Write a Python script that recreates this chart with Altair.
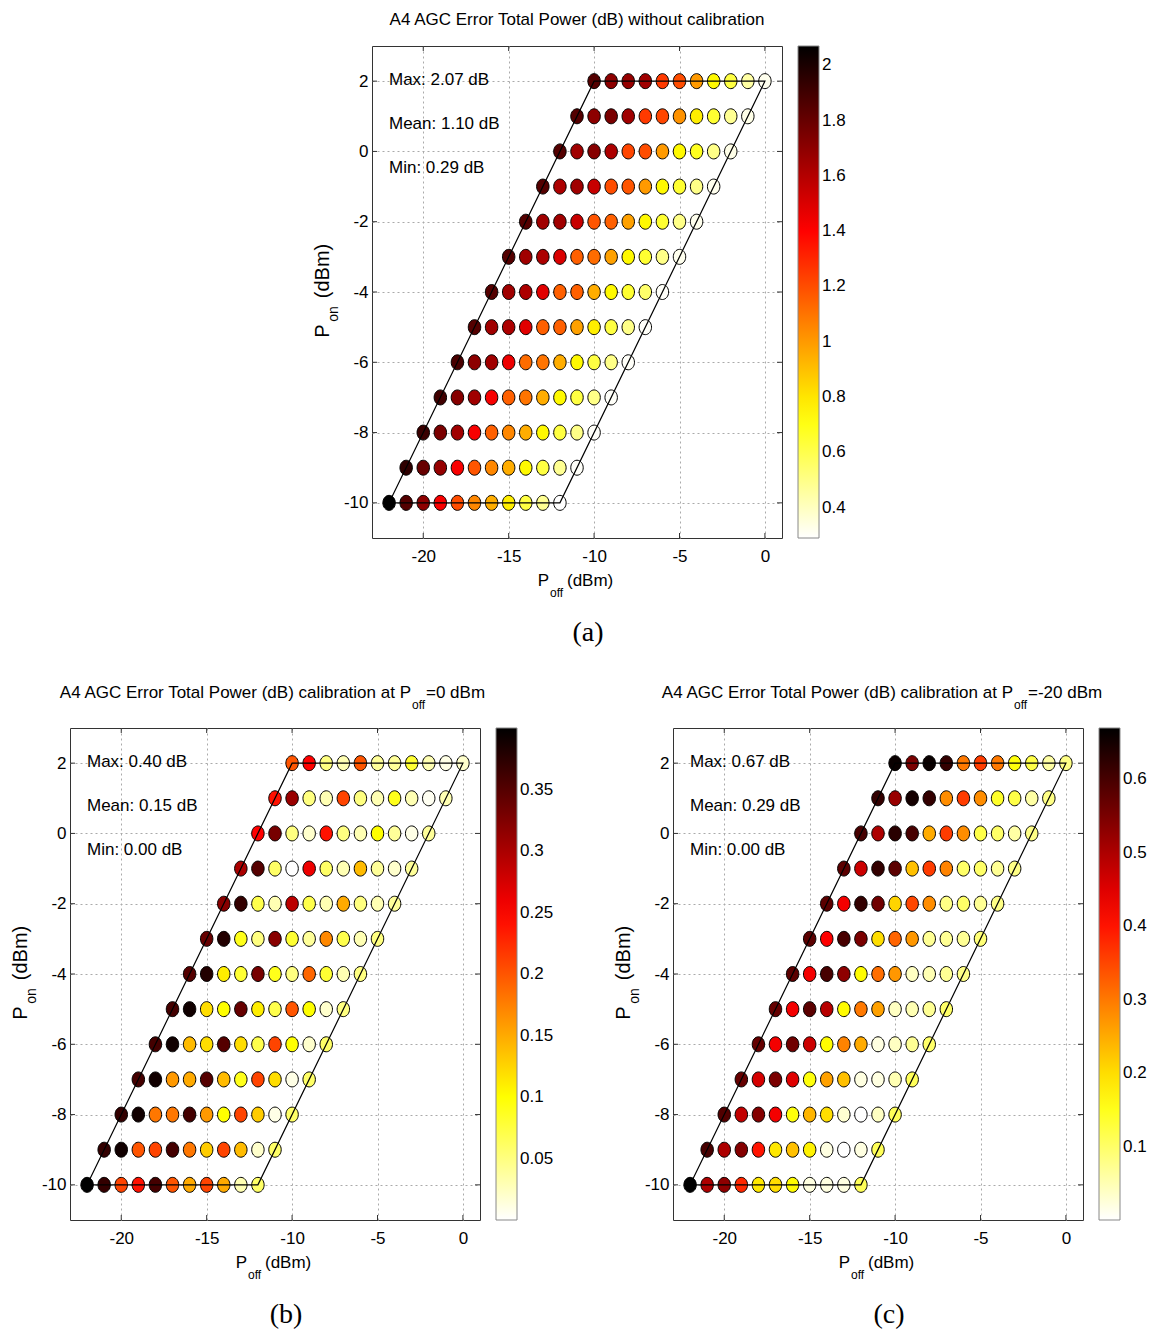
import altair as alt
import pandas as pd

# ---------------- data ----------------
pon_levels = [2, 1, 0, -1, -2, -3, -4, -5, -6, -7, -8, -9, -10]
poff_steps = [-12, -11, -10, -9, -8, -7, -6, -5, -4, -3, -2]   # Poff = Pon + step
x_ticks = [-20, -15, -10, -5, 0]
y_ticks = [-10, -8, -6, -4, -2, 0, 2]

outline_poff = [-22, -12, 0, -10, -22]
outline_pon = [-10, -10, 2, 2, -10]

err_a = [
    [1.85, 1.70, 1.68, 1.65, 1.25, 1.20, 1.00, 0.75, 0.62, 0.45, 0.32],
    [1.85, 1.70, 1.75, 1.65, 1.25, 1.22, 1.02, 0.78, 0.65, 0.48, 0.33],
    [1.85, 1.65, 1.72, 1.62, 1.22, 1.20, 1.00, 0.75, 0.68, 0.50, 0.33],
    [1.85, 1.62, 1.65, 1.55, 1.20, 1.18, 1.00, 0.75, 0.65, 0.50, 0.32],
    [1.85, 1.65, 1.65, 1.55, 1.18, 1.15, 0.98, 0.75, 0.65, 0.50, 0.32],
    [1.85, 1.65, 1.62, 1.50, 1.15, 1.12, 0.98, 0.75, 0.65, 0.50, 0.32],
    [1.85, 1.65, 1.62, 1.48, 1.15, 1.15, 0.95, 0.75, 0.65, 0.55, 0.30],
    [1.85, 1.65, 1.62, 1.48, 1.15, 1.15, 0.98, 0.78, 0.62, 0.50, 0.30],
    [1.88, 1.70, 1.65, 1.45, 1.12, 1.10, 0.95, 0.75, 0.62, 0.50, 0.30],
    [1.90, 1.72, 1.65, 1.42, 1.15, 1.10, 0.95, 0.75, 0.62, 0.50, 0.30],
    [1.92, 1.75, 1.65, 1.42, 1.15, 1.05, 0.95, 0.75, 0.62, 0.50, 0.30],
    [1.95, 1.80, 1.68, 1.42, 1.18, 1.05, 0.95, 0.75, 0.62, 0.48, 0.30],
    [2.07, 1.85, 1.70, 1.42, 1.20, 1.05, 0.95, 0.78, 0.62, 0.48, 0.29],
]

err_b = [
    [0.20, 0.25, 0.05, 0.03, 0.20, 0.04, 0.04, 0.08, 0.03, 0.01, 0.02],
    [0.24, 0.31, 0.05, 0.03, 0.21, 0.05, 0.03, 0.09, 0.03, 0.005, 0.03],
    [0.25, 0.33, 0.05, 0.02, 0.24, 0.05, 0.03, 0.10, 0.04, 0.01, 0.04],
    [0.30, 0.35, 0.06, 0.00, 0.26, 0.06, 0.03, 0.14, 0.04, 0.02, 0.04],
    [0.32, 0.37, 0.07, 0.03, 0.29, 0.07, 0.03, 0.15, 0.05, 0.03, 0.04],
    [0.34, 0.38, 0.09, 0.05, 0.32, 0.08, 0.04, 0.17, 0.07, 0.03, 0.05],
    [0.35, 0.38, 0.11, 0.08, 0.33, 0.09, 0.05, 0.19, 0.08, 0.03, 0.05],
    [0.36, 0.39, 0.12, 0.10, 0.34, 0.11, 0.07, 0.20, 0.10, 0.02, 0.05],
    [0.36, 0.39, 0.14, 0.12, 0.35, 0.12, 0.07, 0.21, 0.10, 0.02, 0.06],
    [0.36, 0.39, 0.16, 0.15, 0.35, 0.14, 0.09, 0.21, 0.12, 0.01, 0.06],
    [0.37, 0.39, 0.18, 0.18, 0.36, 0.16, 0.10, 0.21, 0.13, 0.01, 0.06],
    [0.37, 0.39, 0.20, 0.21, 0.36, 0.18, 0.13, 0.21, 0.14, 0.02, 0.06],
    [0.40, 0.37, 0.21, 0.24, 0.36, 0.20, 0.15, 0.21, 0.15, 0.03, 0.06],
]

err_c = [
    [0.66, 0.55, 0.66, 0.62, 0.30, 0.36, 0.30, 0.16, 0.12, 0.06, 0.08],
    [0.62, 0.52, 0.65, 0.62, 0.28, 0.36, 0.28, 0.14, 0.12, 0.06, 0.08],
    [0.60, 0.50, 0.63, 0.60, 0.25, 0.36, 0.28, 0.12, 0.10, 0.06, 0.08],
    [0.58, 0.47, 0.62, 0.58, 0.23, 0.36, 0.29, 0.10, 0.10, 0.07, 0.08],
    [0.58, 0.43, 0.62, 0.56, 0.21, 0.35, 0.28, 0.08, 0.10, 0.07, 0.08],
    [0.58, 0.42, 0.60, 0.55, 0.20, 0.32, 0.27, 0.07, 0.07, 0.07, 0.09],
    [0.58, 0.43, 0.60, 0.53, 0.17, 0.31, 0.27, 0.04, 0.05, 0.07, 0.08],
    [0.57, 0.43, 0.58, 0.49, 0.17, 0.30, 0.26, 0.04, 0.05, 0.07, 0.10],
    [0.57, 0.43, 0.56, 0.47, 0.17, 0.29, 0.25, 0.02, 0.04, 0.07, 0.10],
    [0.57, 0.46, 0.55, 0.45, 0.16, 0.26, 0.23, 0.02, 0.02, 0.05, 0.11],
    [0.59, 0.48, 0.54, 0.43, 0.16, 0.24, 0.20, 0.03, 0.00, 0.04, 0.11],
    [0.60, 0.50, 0.54, 0.40, 0.19, 0.23, 0.18, 0.02, 0.00, 0.02, 0.11],
    [0.67, 0.50, 0.53, 0.38, 0.19, 0.20, 0.17, 0.02, 0.02, 0.02, 0.11],
]

# colour scale ends (min, max) and colorbar tick labels
range_a = [0.29, 2.07]
range_b = [0.0, 0.40]
range_c = [0.0, 0.67]
cbar_a = [0.4, 0.6, 0.8, 1.0, 1.2, 1.4, 1.6, 1.8, 2.0]
cbar_b = [0.05, 0.1, 0.15, 0.2, 0.25, 0.3, 0.35]
cbar_c = [0.1, 0.2, 0.3, 0.4, 0.5, 0.6]

stats_a = ["Max: 2.07 dB", "Mean: 1.10 dB", "Min: 0.29 dB"]
stats_b = ["Max: 0.40 dB", "Mean: 0.15 dB", "Min: 0.00 dB"]
stats_c = ["Max: 0.67 dB", "Mean: 0.29 dB", "Min: 0.00 dB"]

# ---------------- style ----------------
FONT = "Liberation Sans, Arial, sans-serif"
SERIF = "Liberation Serif, DejaVu Serif, serif"
FS = 17
W, H = 410, 492
TK = 5
ELLIPSE = "M -0.83,0 A 0.83,1 0 1,1 0.83,0 A 0.83,1 0 1,1 -0.83,0 Z"
HOT_R = ["#ffffff", "#ffff00", "#ff0000", "#000000"]


def txt(text, x, y, size=FS, align="left", font=FONT, angle=0, baseline="middle"):
    return alt.Chart(pd.DataFrame({"t": [text]})).mark_text(
        align=align, baseline=baseline, fontSize=size, font=font, color="black", angle=angle
    ).encode(text="t:N", x=alt.value(x), y=alt.value(y))


def panel(values, rng, cbar_vals, title_parts, caption, stats):
    recs = []
    for i, pon in enumerate(pon_levels):
        for j, st in enumerate(poff_steps):
            recs.append({"pon": pon, "poff": pon + st, "val": values[i][j]})
    df = pd.DataFrame(recs)
    lo, hi = rng
    stops = [lo, lo + 0.25 * (hi - lo), lo + 0.625 * (hi - lo), hi]

    xs = alt.Scale(domain=[-23, 1], nice=False, zero=False)
    ys = alt.Scale(domain=[-11, 3], nice=False, zero=False)
    xa = alt.Axis(values=x_ticks, title=None, grid=True, ticks=False, tickSize=0, domain=False,
                  labelExpr="'' + datum.value", labelPadding=10, labelFontSize=FS, labelFont=FONT,
                  labelColor="black", gridDash=[2, 3], gridColor="#aaaaaa")
    ya = alt.Axis(values=y_ticks, title=None, grid=True, ticks=False, tickSize=0, domain=False,
                  labelExpr="'' + datum.value", labelPadding=4, labelFontSize=FS, labelFont=FONT,
                  labelColor="black", gridDash=[2, 3], gridColor="#aaaaaa")

    pts = alt.Chart(df).mark_point(
        shape=ELLIPSE, filled=True, size=225, stroke="black", strokeWidth=1, opacity=1
    ).encode(
        x=alt.X("poff:Q", scale=xs, axis=xa),
        y=alt.Y("pon:Q", scale=ys, axis=ya),
        fill=alt.Fill("val:Q", scale=alt.Scale(domain=stops, range=HOT_R, interpolate="rgb"),
                      legend=alt.Legend(orient="none", legendX=W + 16, legendY=0, direction="vertical",
                                        gradientLength=H, gradientThickness=21, title=None,
                                        values=cbar_vals, format="~g", labelFont=FONT, labelFontSize=FS,
                                        labelColor="black", gradientStrokeColor="#888888",
                                        gradientStrokeWidth=1, labelOffset=3, labelOverlap=False)),
    )
    odf = pd.DataFrame({"poff": outline_poff, "pon": outline_pon, "i": list(range(len(outline_pon)))})
    outline = alt.Chart(odf).mark_line(color="black", strokeWidth=1.2).encode(
        x=alt.X("poff:Q", scale=xs, axis=xa), y=alt.Y("pon:Q", scale=ys, axis=ya), order="i:Q"
    )
    # MATLAB-style inward ticks on all four sides
    xt = alt.Chart(pd.DataFrame({"v": x_ticks}))
    yt = alt.Chart(pd.DataFrame({"v": y_ticks}))
    tick_layers = [
        xt.mark_rule(color="#333333", strokeWidth=1).encode(
            x=alt.X("v:Q", scale=xs, axis=xa), y=alt.value(H), y2=alt.value(H - TK)),
        xt.mark_rule(color="#333333", strokeWidth=1).encode(
            x=alt.X("v:Q", scale=xs, axis=xa), y=alt.value(0), y2=alt.value(TK)),
        yt.mark_rule(color="#333333", strokeWidth=1).encode(
            y=alt.Y("v:Q", scale=ys, axis=ya), x=alt.value(0), x2=alt.value(TK)),
        yt.mark_rule(color="#333333", strokeWidth=1).encode(
            y=alt.Y("v:Q", scale=ys, axis=ya), x=alt.value(W), x2=alt.value(W - TK)),
    ]
    layers = [pts, outline] + tick_layers
    for k, s in enumerate(stats):
        layers.append(txt(s, 17, 34 + 44 * k))
    # title
    if len(title_parts) == 1:
        layers.append(txt(title_parts[0], W / 2, -26, align="center"))
    else:
        main, sub, rest, xj = title_parts
        layers.append(txt(main, xj, -35, align="right"))
        layers.append(txt(sub, xj + 1, -23, size=12))
        layers.append(txt(rest, xj + 15, -35))
    # x axis title
    layers.append(txt("P", 177, 535, align="right"))
    layers.append(txt("off", 178, 547, size=12))
    layers.append(txt("(dBm)", 195, 535))
    # y axis title (rotated)
    layers.append(txt("P", -49, 285, align="center", size=20, angle=270))
    layers.append(txt("on", -38, 268, align="center", size=14, angle=270))
    layers.append(txt("(dBm)", -49, 225, align="center", size=20, angle=270))
    # caption
    layers.append(txt(caption, 216, 587, size=28, align="center", font=SERIF))
    return alt.layer(*layers).properties(width=W, height=H, view=alt.ViewBackground(stroke="#333333"))


pa = panel(err_a, range_a, cbar_a, ["A4 AGC Error Total Power (dB) without calibration"], "(a)", stats_a)
pb = panel(err_b, range_b, cbar_b, ["A4 AGC Error Total Power (dB) calibration at P", "off", "=0 dBm", 341],
           "(b)", stats_b)
pc = panel(err_c, range_c, cbar_c, ["A4 AGC Error Total Power (dB) calibration at P", "off", "=-20 dBm", 340],
           "(c)", stats_c)

spacer = alt.Chart(pd.DataFrame({"a": [0]})).mark_point(opacity=0).encode(
    x=alt.value(0), y=alt.value(0)
).properties(width=302, height=H, view=alt.ViewBackground(stroke="transparent"))

top = alt.hconcat(spacer, pa, spacing=0, bounds="flush").resolve_scale(
    fill="independent", x="independent", y="independent")
bottom = alt.hconcat(pb, pc, spacing=193, bounds="flush").resolve_scale(
    fill="independent", x="independent", y="independent")
# nested rows count as zero height in flush layout, so the spacing spans the top plot too
chart = alt.vconcat(top, bottom, spacing=H + 190, bounds="flush").resolve_scale(
    fill="independent", x="independent", y="independent"
).properties(padding={"left": 10, "top": 10, "right": 0, "bottom": 0}).configure_view(
    stroke="#333333", strokeWidth=1
).configure_legend(gradientVerticalMaxLength=500)

chart.save("out.html", embed_options={"renderer": "svg", "actions": False})
